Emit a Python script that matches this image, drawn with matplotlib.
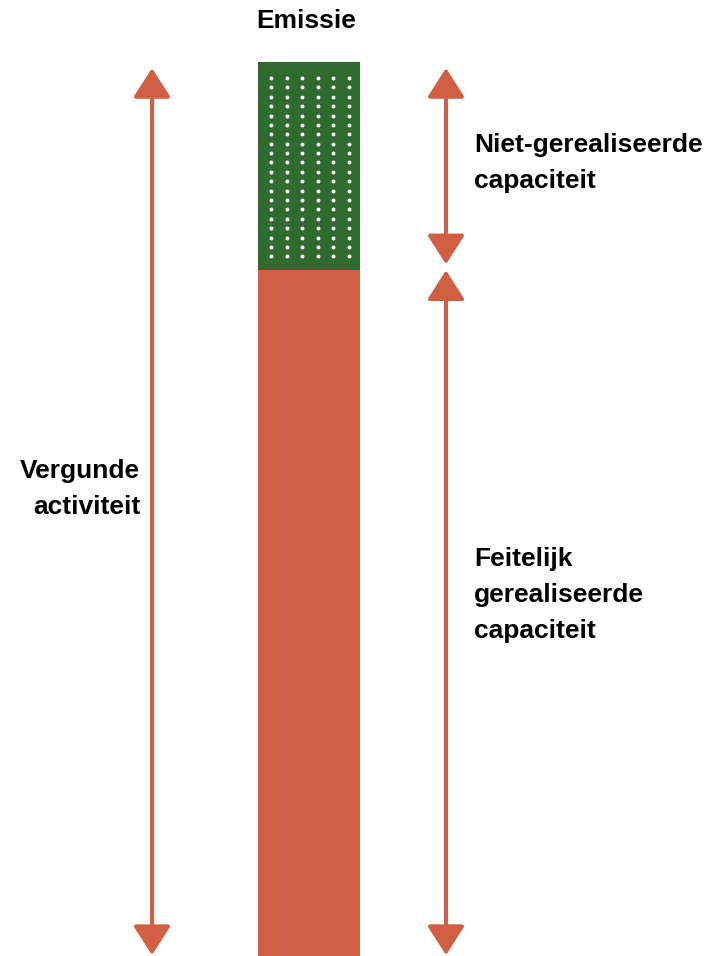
import matplotlib
matplotlib.use("Agg")
import matplotlib.pyplot as plt
from matplotlib.patches import FancyArrowPatch
import numpy as np

plt.rcParams['font.family'] = ['Liberation Sans', 'DejaVu Sans']

# data (share of permitted activity, %)
segments = ["Feitelijk gerealiseerde capaciteit", "Niet-gerealiseerde capaciteit"]
values = [76.7, 23.3]
bar_label = "Emissie"
left_label = "Vergunde\nactiviteit"
right_labels = ["Feitelijk\ngerealiseerde\ncapaciteit", "Niet-gerealiseerde\ncapaciteit"]

ORANGE = "#D15F43"
GREEN = "#2F6A2F"

W, H = 713, 956
fig = plt.figure(figsize=(W / 100, H / 100), dpi=100)
ax = fig.add_axes([0, 0, 1, 1])
ax.set_axis_off()

px_per_unit = (956 - 62) / 100.0
ax.set_xlim(0, W)
ax.set_ylim(0, H / px_per_unit)

bar_x, bar_w = 309, 102
total = sum(values)
ax.bar(bar_x, values[0], width=bar_w, bottom=0, color=ORANGE, linewidth=0)
ax.bar(bar_x, values[1], width=bar_w, bottom=values[0], color=GREEN, linewidth=0)

# dotted pattern in the green segment
u = 1 / px_per_unit
dot_x = np.linspace(bar_x - 38, bar_x + 40, 6)
dot_y = np.linspace(values[0] + 14 * u, total - 16 * u, 20)
XX, YY = np.meshgrid(dot_x, dot_y)
ax.scatter(XX.ravel(), YY.ravel(), s=8, color="white", linewidths=0, zorder=3)

def arrow(x, y0, y1):
    a = FancyArrowPatch((x, y0), (x, y1),
                        arrowstyle="<|-|>,head_length=18,head_width=11.5",
                        mutation_scale=1, color=ORANGE, linewidth=2.9,
                        shrinkA=0, shrinkB=0, zorder=2)
    ax.add_patch(a)

top_tip = total - 6 * u
arrow(152, 0.1, top_tip)
arrow(446, values[0] + 6 * u, top_tip)
arrow(446, 0.1, values[0])

fs = 19
ls = 1.62
# y positions: baseline of the last line of each label
ax.text(306, (H - 28) * u, bar_label, ha="center", va="baseline",
        fontsize=fs, fontweight="bold")
ax.text(140, (H - 514) * u, left_label, ha="right", va="baseline",
        multialignment="right", fontsize=fs, fontweight="bold", linespacing=ls)
ax.text(474, (H - 188) * u, right_labels[1], ha="left", va="baseline",
        fontsize=fs, fontweight="bold", linespacing=ls)
ax.text(474, (H - 638) * u, right_labels[0], ha="left", va="baseline",
        fontsize=fs, fontweight="bold", linespacing=ls)

fig.savefig("out.png", dpi=100)
